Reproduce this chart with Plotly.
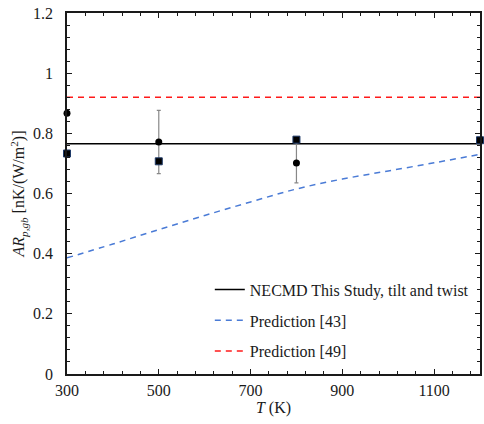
import plotly.graph_objects as go

# Data
T_circ = [300, 500, 800]
ar_circ = [0.867, 0.771, 0.701]
err_circ = [0.0, 0.105, 0.066]

T_sq = [300, 500, 800, 1200]
ar_sq = [0.733, 0.707, 0.779, 0.777]

necmd_T = [300, 1200]
necmd_val = [0.765, 0.765]

pred43_T = [300, 400, 500, 600, 700, 800, 900, 1000, 1100, 1200]
pred43_val = [0.386, 0.432, 0.480, 0.527, 0.572, 0.615, 0.648, 0.675, 0.702, 0.730]

pred49_T = [300, 1200]
pred49_val = [0.920, 0.920]

xticks = [300, 500, 700, 900, 1100]
yticks = [0, 0.2, 0.4, 0.6, 0.8, 1.0, 1.2]
ytick_text = ["0", "0.2", "0.4", "0.6", "0.8", "1", "1.2"]

FONT = "Liberation Serif"
INK = "#1a1a1a"

fig = go.Figure()

fig.add_trace(go.Scatter(x=necmd_T, y=necmd_val, mode="lines",
                         line=dict(color="black", width=1.5),
                         name="NECMD This Study, tilt and twist", legendgroup="a"))
fig.add_trace(go.Scatter(x=pred43_T, y=pred43_val, mode="lines",
                         line=dict(color="#4a7bd6", width=1.5, dash="6px,5px", shape="spline"),
                         name="Prediction [43]", legendgroup="b"))
fig.add_trace(go.Scatter(x=pred49_T, y=pred49_val, mode="lines",
                         line=dict(color="#ff1a1a", width=1.5, dash="6px,5px"),
                         name="Prediction [49]", legendgroup="c"))

fig.add_trace(go.Scatter(x=T_circ, y=ar_circ, mode="markers",
                         marker=dict(symbol="circle", size=7, color="black"),
                         error_y=dict(type="data", array=err_circ, visible=True,
                                      color="#888888", thickness=1.2, width=2),
                         showlegend=False, cliponaxis=False))
fig.add_trace(go.Scatter(x=T_sq, y=ar_sq, mode="markers",
                         marker=dict(symbol="square", size=7, color="black",
                                     line=dict(color="#1f3a68", width=1)),
                         showlegend=False, cliponaxis=False))

axis_common = dict(
    showgrid=False, zeroline=False, showline=True, linecolor=INK, linewidth=1.5,
    mirror="ticks", ticks="inside", ticklen=5, tickwidth=1, tickcolor=INK,
    tickfont=dict(family=FONT, size=16, color=INK), ticklabeloverflow="allow",
)

fig.update_xaxes(**axis_common, range=[300, 1200], tickvals=xticks, ticklabelstandoff=1,
                 minor=dict(dtick=40, tick0=300, ticks="inside", ticklen=3, tickcolor=INK),
                 title=dict(text="<i>T</i> (K)", font=dict(family=FONT, size=16, color=INK), standoff=2))
fig.update_yaxes(**axis_common, range=[0, 1.2], tickvals=yticks, ticktext=ytick_text,
                 ticklabelstandoff=9,
                 minor=dict(dtick=0.04, tick0=0, ticks="inside", ticklen=3, tickcolor=INK),
                 title=dict(text="<i>AR</i><sub><i>p,gb</i></sub> [nK/(W/m<sup>2</sup>)]",
                            font=dict(family=FONT, size=16, color=INK), standoff=4))

fig.update_layout(
    width=484, height=424,
    margin=dict(l=67, r=2, t=13, b=50),
    plot_bgcolor="white", paper_bgcolor="white",
    font=dict(family=FONT, size=16, color=INK),
    legend=dict(x=0.985, y=0.015, xanchor="right", yanchor="bottom",
                bgcolor="rgba(0,0,0,0)", font=dict(family=FONT, size=16, color=INK),
                tracegroupgap=7, itemwidth=30),
)

fig.write_html("out.html", config={"displayModeBar": False},
               post_script="document.body.style.margin='0';document.body.style.overflow='hidden';")
